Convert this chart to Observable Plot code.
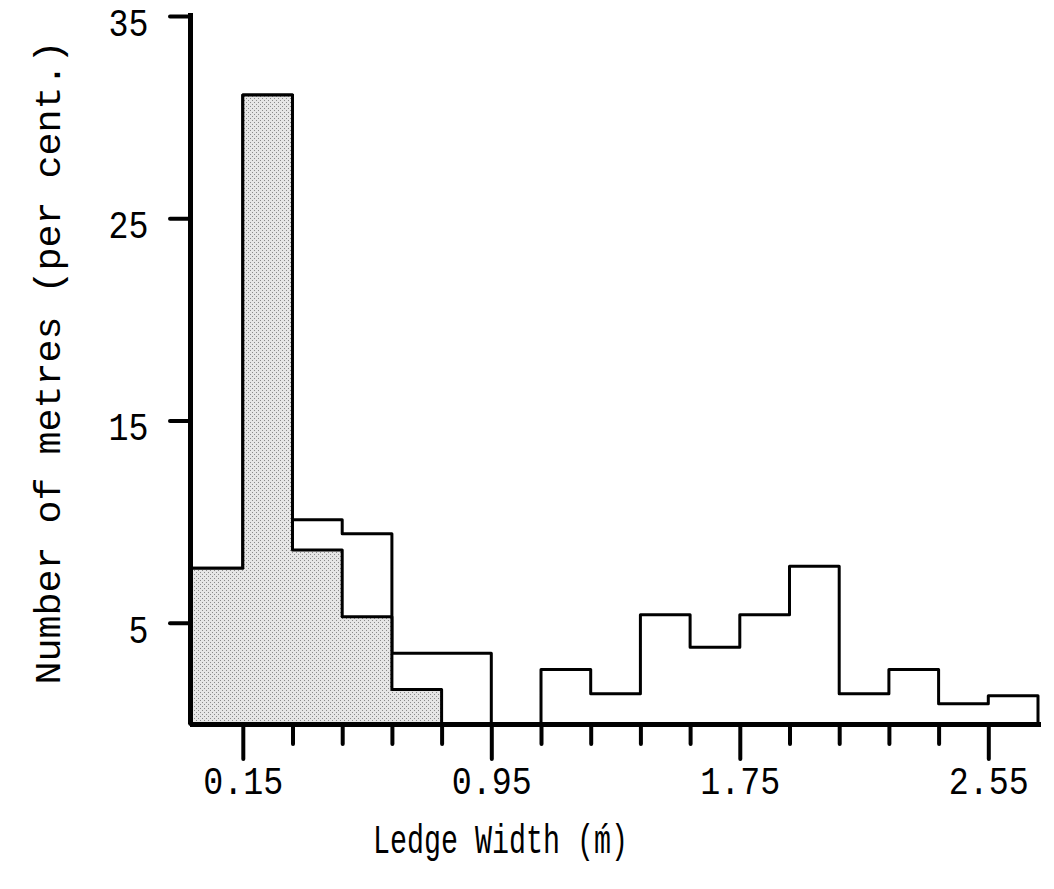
<!DOCTYPE html>
<html><head><meta charset="utf-8">
<script src="https://cdn.jsdelivr.net/npm/d3@7"></script>
<script src="https://cdn.jsdelivr.net/npm/@observablehq/plot@0.6"></script>
<style>
body{margin:0;background:#fff}
g[aria-label="x-axis tick"] path, g[aria-label="y-axis tick"] path { stroke-width: 4px; stroke-linecap: round; }
</style>
</head><body><div id="chart"></div>
<script>
// Bin edges (ledge width, m) and percentages
const binEdges = [-0.02, 0.15, 0.31, 0.47, 0.63, 0.79, 0.95, 1.11, 1.27, 1.43, 1.59, 1.75, 1.91, 2.07, 2.23, 2.39, 2.55, 2.71];
const totalPercent = [7.7, 31.1, 10.1, 9.4, 3.5, 3.5, 0, 2.7, 1.5, 5.4, 3.8, 5.4, 7.8, 1.5, 2.7, 1.0, 1.4];
const shadedPercent = [7.7, 31.1, 8.6, 5.3, 1.7];
const xMajorTicks = [0.15, 0.95, 1.75, 2.55];
const xMinorTicks = [0.31, 0.47, 0.63, 0.79, 1.11, 1.27, 1.43, 1.59, 1.91, 2.07, 2.23, 2.39];
const yTicks = [5, 15, 25, 35];
const xLabel = "Ledge Width (ḿ)";
const yLabel = "Number of metres (per cent.)";

function steps(values) {
  const pts = values.map((v, i) => ({x: binEdges[i], y: v}));
  pts.push({x: binEdges[values.length], y: values[values.length - 1]});
  return pts;
}

const chart = Plot.plot({
  width: 1054,
  height: 889,
  marginLeft: 190,
  marginRight: 16,
  marginTop: 16,
  marginBottom: 165,
  style: {fontFamily: "Liberation Mono", fontSize: "38px", background: "#fff", color: "#000"},
  x: {domain: [binEdges[0], binEdges[binEdges.length - 1]]},
  y: {domain: [0, 35]},
  marks: [
    Plot.areaY(steps(totalPercent), {x: "x", y: "y", curve: "step-after", fill: "none", stroke: "#000", strokeWidth: 3}),
    Plot.areaY(steps(shadedPercent), {x: "x", y: "y", curve: "step-after", fill: "url(#stipple)", stroke: "#000", strokeWidth: 3}),
    Plot.ruleY([0], {stroke: "#000", strokeWidth: 5, insetRight: -3}),
    Plot.ruleX([binEdges[0]], {stroke: "#000", strokeWidth: 5, insetTop: -3}),
    Plot.axisY({ticks: yTicks, tickSize: 20, strokeWidth: 4, tickFormat: () => "", label: null}),
    Plot.axisY({ticks: yTicks, tickSize: 0, tickPadding: 42, fontSize: 38, dy: 7, label: null}),
    Plot.axisX({ticks: xMajorTicks, tickSize: 35, tickPadding: 8, strokeWidth: 4, fontSize: 38, tickFormat: d => d.toFixed(2), label: null}),
    Plot.axisX({ticks: xMinorTicks, tickSize: 20, strokeWidth: 4, tickFormat: () => "", label: null}),
    Plot.text([xLabel], {frameAnchor: "bottom-left", dx: 310, dy: 128, text: d => d, fontSize: 40, textAnchor: "middle"}),
    Plot.text([yLabel], {frameAnchor: "left", dx: -142, dy: -8, rotate: -90, text: d => d, fontSize: 36, textAnchor: "middle"})
  ]
});

// stipple pattern for the shaded histogram
const svg = d3.select(chart);
const defs = svg.insert("defs", ":first-child");
const pat = defs.append("pattern").attr("id", "stipple").attr("width", 4).attr("height", 4).attr("patternUnits", "userSpaceOnUse");
pat.append("rect").attr("width", 4).attr("height", 4).attr("fill", "#e6e6e6");
pat.append("rect").attr("x", 0).attr("y", 0).attr("width", 1).attr("height", 1).attr("fill", "#8a8a8a");
pat.append("rect").attr("x", 2).attr("y", 2).attr("width", 1).attr("height", 1).attr("fill", "#8a8a8a");

// typewriter-like narrow tall glyphs
svg.selectAll("text").each(function() {
  const s = this.textContent;
  if (!s) return;
  const adv = s === xLabel ? 17 : s === yLabel ? 23 : 20;
  this.setAttribute("textLength", s.length * adv);
  this.setAttribute("lengthAdjust", "spacingAndGlyphs");
});

document.getElementById("chart").appendChild(chart);
</script>
</body></html>
